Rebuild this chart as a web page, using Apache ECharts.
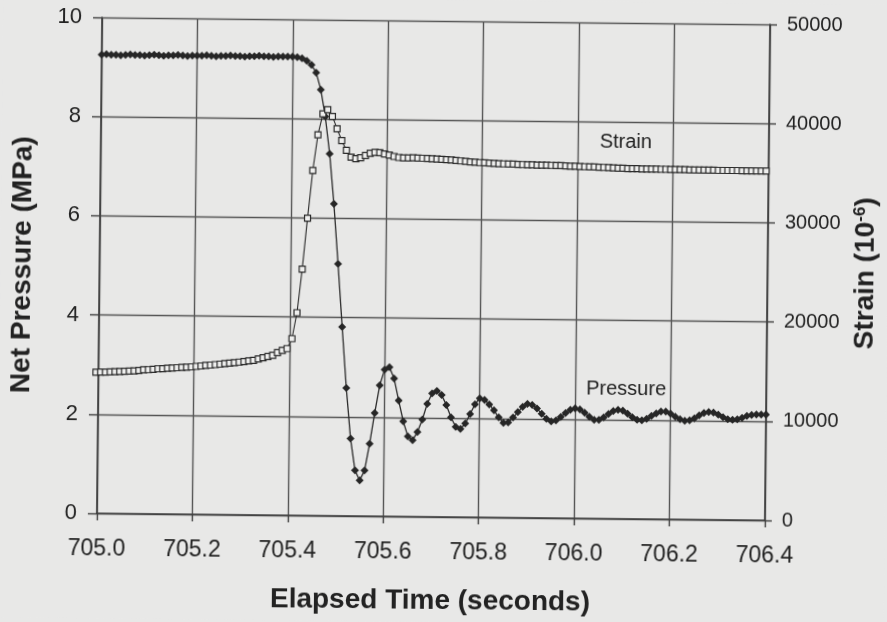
<!DOCTYPE html>
<html>
<head>
<meta charset="utf-8">
<title>Net Pressure and Strain vs Elapsed Time</title>
<script src="https://cdn.jsdelivr.net/npm/echarts@6.0.0/dist/echarts.min.js"></script>
<style>
html, body { margin: 0; padding: 0; background: #e8e8e7; overflow: hidden; }
/* the scanned figure sits a little skewed on the page */
#chart { width: 887px; height: 622px; transform: rotate(0.6deg); transform-origin: 50% 50%; }
</style>
</head>
<body>
<div id="chart"></div>
<script>
// sampling: one reading every 0.01 s, strain channel is half a step earlier
var pressureStart = 705.0;
var strainStart = 704.995;
var sampleStep = 0.01;

// net pressure (MPa)
var pressure = [
  9.25, 9.26, 9.25, 9.25, 9.24, 9.25, 9.26, 9.25, 9.25, 9.24,
  9.25, 9.26, 9.25, 9.24, 9.25, 9.25, 9.26, 9.25, 9.24, 9.25,
  9.25, 9.25, 9.26, 9.25, 9.24, 9.25, 9.25, 9.26, 9.25, 9.25,
  9.24, 9.25, 9.25, 9.26, 9.25, 9.25, 9.24, 9.25, 9.25, 9.25,
  9.25, 9.24, 9.22, 9.17, 9.09, 8.93, 8.59, 8.05, 7.30, 6.29,
  5.08, 3.81, 2.58, 1.56, 0.92, 0.72, 0.92, 1.46, 2.08, 2.64,
  2.96, 3.01, 2.78, 2.34, 1.92, 1.62, 1.54, 1.71, 1.96, 2.28,
  2.49, 2.54, 2.46, 2.26, 2.01, 1.82, 1.78, 1.89, 2.08, 2.28,
  2.40, 2.37, 2.28, 2.16, 2.02, 1.91, 1.92, 2.02, 2.13, 2.24,
  2.30, 2.28, 2.21, 2.10, 2.00, 1.95, 1.97, 2.04, 2.12, 2.19,
  2.22, 2.20, 2.13, 2.05, 1.99, 1.99, 2.04, 2.11, 2.17, 2.20,
  2.18, 2.12, 2.05, 2.00, 1.99, 2.02, 2.08, 2.13, 2.17, 2.17,
  2.13, 2.07, 2.02, 1.99, 2.00, 2.04, 2.10, 2.15, 2.17, 2.16,
  2.12, 2.07, 2.03, 2.02, 2.03, 2.06, 2.10, 2.12, 2.13, 2.13,
  2.13
];

// strain (10^-6)
var strain = [
  14230, 14250, 14260, 14280, 14300, 14320, 14360, 14380, 14410, 14450,
  14520, 14540, 14580, 14640, 14660, 14700, 14730, 14770, 14810, 14840,
  14870, 14920, 14970, 15030, 15070, 15120, 15170, 15230, 15280, 15340,
  15400, 15460, 15530, 15590, 15740, 15870, 15990, 16110, 16390, 16630,
  16810, 17820, 20440, 24840, 29980, 34790, 38390, 40520, 40930, 40260,
  39020, 37850, 36850, 36180, 36030, 36130, 36350, 36590, 36690, 36660,
  36530, 36430, 36290, 36190, 36150, 36160, 36170, 36160, 36140, 36120,
  36100, 36080, 36050, 36030, 36000, 35960, 35910, 35870, 35830, 35800,
  35760, 35740, 35720, 35700, 35680, 35660, 35650, 35640, 35620, 35610,
  35600, 35590, 35580, 35570, 35570, 35560, 35550, 35540, 35520, 35500,
  35490, 35480, 35460, 35450, 35440, 35420, 35410, 35390, 35370, 35350,
  35340, 35330, 35320, 35310, 35300, 35300, 35290, 35290, 35280, 35280,
  35270, 35270, 35260, 35260, 35250, 35250, 35240, 35240, 35240, 35240,
  35230, 35230, 35230, 35230, 35230, 35220, 35220, 35220, 35220, 35220,
  35220
];

var xTicks = { min: 705.0, max: 706.4, step: 0.2 };
var pressureTicks = { min: 0, max: 10, step: 2 };
var strainTicks = { min: 0, max: 50000, step: 10000 };

var font = "'Liberation Sans', Arial, sans-serif";
var ink = '#222';
var gridInk = '#555';

function pairs(start, values) {
    var out = [];
    for (var i = 0; i < values.length; i++) {
        out.push([+(start + i * sampleStep).toFixed(3), values[i]]);
    }
    return out;
}

var myChart = echarts.init(document.getElementById('chart'), null, { renderer: 'canvas' });

var option = {
    backgroundColor: '#e8e8e7',
    animation: false,
    grid: {
        left: 97,
        right: 120,
        top: 21,
        bottom: 105
    },
    xAxis: {
        type: 'value',
        min: xTicks.min,
        max: xTicks.max,
        interval: xTicks.step,
        name: 'Elapsed Time (seconds)',
        nameLocation: 'middle',
        nameGap: 70,
        nameTextStyle: { fontFamily: font, fontSize: 28, fontWeight: 'bold', color: ink },
        axisLine: { lineStyle: { color: '#3e3e3e', width: 1.6 } },
        axisTick: { show: true, length: 7, lineStyle: { color: '#3e3e3e', width: 1.4 } },
        axisLabel: {
            margin: 24,
            fontSize: 23,
            fontFamily: font,
            color: ink,
            formatter: function (v) { return v.toFixed(1); }
        },
        splitLine: { show: true, lineStyle: { color: gridInk, width: 1.4 } }
    },
    yAxis: [
        {
            type: 'value',
            position: 'left',
            min: pressureTicks.min,
            max: pressureTicks.max,
            interval: pressureTicks.step,
            name: 'Net Pressure (MPa)',
            nameLocation: 'middle',
            nameGap: 63,
            nameRotate: 90,
            nameTextStyle: { fontFamily: font, fontSize: 28, fontWeight: 'bold', color: ink },
            axisLine: { show: true, lineStyle: { color: '#3e3e3e', width: 1.6 } },
            axisTick: { show: true, length: 9, lineStyle: { color: '#3e3e3e', width: 1.4 } },
            axisLabel: { margin: 20, fontSize: 22, fontFamily: font, color: ink },
            splitLine: { show: true, lineStyle: { color: gridInk, width: 1.4 } }
        },
        {
            type: 'value',
            position: 'right',
            min: strainTicks.min,
            max: strainTicks.max,
            interval: strainTicks.step,
            name: 'Strain (10{sup|-6})',
            nameLocation: 'middle',
            nameGap: 84,
            nameRotate: 90,
            nameTextStyle: {
                fontFamily: font, fontSize: 28, fontWeight: 'bold', color: ink,
                rich: {
                    sup: { fontFamily: font, fontSize: 17, fontWeight: 'bold', color: ink, verticalAlign: 'top', padding: [0, 0, 10, 0] }
                }
            },
            axisLine: { show: true, lineStyle: { color: '#3e3e3e', width: 1.6 } },
            axisTick: { show: true, length: 7, lineStyle: { color: '#3e3e3e', width: 1.4 } },
            axisLabel: {
                margin: 17, fontSize: 20, fontFamily: font, color: ink,
                formatter: function (v) { return String(v); }
            },
            splitLine: { show: false }
        }
    ],
    graphic: [
        {
            type: 'text', x: 624, y: 140, z: 100,
            style: { text: 'Strain', align: 'center', verticalAlign: 'middle', fontFamily: font, fontSize: 20, fill: ink }
        },
        {
            type: 'text', x: 627, y: 387, z: 100,
            style: { text: 'Pressure', align: 'center', verticalAlign: 'middle', fontFamily: font, fontSize: 20, fill: ink }
        }
    ],
    series: [
        {
            name: 'Pressure',
            type: 'line',
            yAxisIndex: 0,
            data: pairs(pressureStart, pressure),
            showAllSymbol: true,
            symbol: 'diamond',
            symbolSize: 8,
            lineStyle: { color: '#2a2a2a', width: 1.3 },
            itemStyle: { color: '#262626' },
            z: 3
        },
        {
            name: 'Strain',
            type: 'line',
            yAxisIndex: 1,
            data: pairs(strainStart, strain),
            showAllSymbol: true,
            clip: false,
            symbol: 'rect',
            symbolSize: 6,
            lineStyle: { color: '#2a2a2a', width: 1.1 },
            itemStyle: { color: '#efefee', borderColor: '#2a2a2a', borderWidth: 1.2 },
            z: 4
        }
    ]
};

myChart.setOption(option);
window.addEventListener("resize", function () {
    myChart.resize();
});
</script>
</body>
</html>
